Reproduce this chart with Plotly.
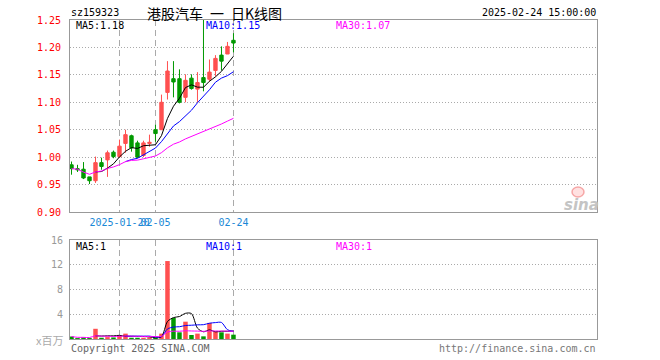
import plotly.graph_objects as go
import pandas as pd

# ---------------- data ----------------
dates = ["2025-01-08", "2025-01-09", "2025-01-10", "2025-01-13", "2025-01-14", "2025-01-15",
         "2025-01-16", "2025-01-17", "2025-01-20", "2025-01-21", "2025-01-22", "2025-01-23",
         "2025-01-24", "2025-01-27", "2025-02-05", "2025-02-06", "2025-02-07", "2025-02-10",
         "2025-02-11", "2025-02-12", "2025-02-13", "2025-02-14", "2025-02-17", "2025-02-18",
         "2025-02-19", "2025-02-20", "2025-02-21", "2025-02-24"]
opens = [0.986, 0.979, 0.978, 0.964, 0.957, 0.990, 0.995, 1.009, 1.001, 1.025, 1.039, 1.026,
         1.003, 1.025, 1.050, 1.050, 1.118, 1.143, 1.143, 1.109, 1.144, 1.124, 1.145, 1.142,
         1.158, 1.186, 1.188, 1.213]
highs = [0.992, 0.986, 0.991, 0.964, 1.001, 0.999, 1.012, 1.012, 1.032, 1.050, 1.041, 1.030,
         1.030, 1.041, 1.059, 1.114, 1.175, 1.175, 1.160, 1.151, 1.151, 1.155, 1.250, 1.178,
         1.186, 1.202, 1.210, 1.226]
lows = [0.968, 0.973, 0.960, 0.951, 0.953, 0.977, 0.964, 0.998, 0.999, 1.008, 1.010, 0.998,
        1.000, 1.019, 1.028, 1.050, 1.105, 1.109, 1.098, 1.100, 1.123, 1.100, 1.120, 1.138,
        1.147, 1.158, 1.188, 1.191]
closes = [0.979, 0.977, 0.962, 0.957, 0.990, 0.983, 1.008, 1.001, 1.020, 1.041, 1.017, 1.000,
          1.026, 1.027, 1.043, 1.100, 1.157, 1.137, 1.100, 1.140, 1.125, 1.136, 1.136, 1.155,
          1.180, 1.175, 1.202, 1.208]
volumes = [0.40, 0.15, 0.25, 0.15, 1.65, 0.20, 0.30, 0.25, 0.55, 0.87, 0.20, 0.20, 0.20, 0.25,
           0.20, 0.87, 12.6, 3.40, 1.08, 2.80, 0.65, 0.87, 0.43, 2.60, 1.24, 1.08, 0.87, 0.70]

price_ticks = [0.90, 0.95, 1.00, 1.05, 1.10, 1.15, 1.20, 1.25]
vol_ticks = [4, 8, 12, 16]
date_ticks = ["2025-01-20", "2025-02-05", "2025-02-24"]
date_tick_text = ["2025-01-20", "02-05", "02-24"]

title_text = "港股汽车 一 日K线图"
code_text = "sz159323"
time_text = "2025-02-24 15:00:00"
ma_price_labels = ["MA5:1.18", "MA10:1.15", "MA30:1.07"]
ma_vol_labels = ["MA5:1", "MA10:1", "MA30:1"]

# ---------------- derived ----------------
cl = pd.Series(closes)
ma5 = cl.rolling(5).mean()
ma10 = cl.rolling(10).mean()
ma30 = cl.rolling(30, min_periods=1).mean()
vs = pd.Series(volumes)
vma5 = vs.rolling(5).mean()
vma10 = vs.rolling(10).mean()
vma30 = vs.rolling(30, min_periods=1).mean()

RED = "#ff5050"
GREEN = "#009900"
vol_colors = [RED if c >= o else GREEN for o, c in zip(opens, closes)]

W, H = 660, 360
def px(x):
    return x / W
def py(y):
    return 1 - y / H

MONO = "DejaVu Sans Mono"
fig = go.Figure()

fig.add_trace(go.Candlestick(
    x=dates, open=opens, high=highs, low=lows, close=closes,
    increasing=dict(line=dict(color=RED, width=1), fillcolor=RED),
    decreasing=dict(line=dict(color=GREEN, width=1), fillcolor=GREEN),
    whiskerwidth=0, xaxis="x", yaxis="y", showlegend=False))

for s, col in [(ma5, "black"), (ma10, "#0000ff"), (ma30, "#ff00ff")]:
    fig.add_trace(go.Scatter(x=dates, y=s, mode="lines", line=dict(color=col, width=1),
                             xaxis="x", yaxis="y", showlegend=False, connectgaps=False))

fig.add_trace(go.Bar(x=dates, y=volumes, marker=dict(color=vol_colors, line=dict(width=0)),
                     width=0.75, xaxis="x2", yaxis="y2", showlegend=False))
for s, col in [(vma5, "black"), (vma10, "#0000ff"), (vma30, "#ff00ff")]:
    fig.add_trace(go.Scatter(x=dates, y=s, mode="lines",
                             line=dict(color=col, width=1, shape="spline", smoothing=0.8),
                             xaxis="x2", yaxis="y2", showlegend=False))

xr = [-0.25, 87.6]
xdom = [px(70), px(597)]
common_x = dict(type="category", range=xr, domain=xdom, showline=True, mirror=True,
                linecolor="#999999", linewidth=1, showgrid=True, gridcolor="#aaaaaa",
                griddash="6px,4px", gridwidth=1, tickmode="array", tickvals=date_ticks,
                ticktext=date_tick_text, ticks="", zeroline=False, fixedrange=True,
                automargin=False, tickangle=0)

fig.update_layout(
    width=W, height=H, margin=dict(l=0, r=0, t=0, b=0, autoexpand=False),
    paper_bgcolor="white", plot_bgcolor="white",
    boxgap=0.2, bargap=0.2, hovermode=False,
    xaxis=dict(**common_x, anchor="y", rangeslider=dict(visible=False),
               tickfont=dict(family=MONO, size=10, color="#1a88d6"), ticklabelstandoff=1),
    yaxis=dict(domain=[py(212), py(20)], range=[0.90, 1.25], tickmode="array",
               tickvals=price_ticks, tickformat=".2f", showline=True, mirror=True,
               linecolor="#999999", linewidth=1, showgrid=True, gridcolor="#aaaaaa",
               griddash="1px,2px", zeroline=False, ticks="", ticklabelstandoff=6,
               tickfont=dict(family=MONO, size=10, color="#ff0000"), anchor="x",
               automargin=False, fixedrange=True),
    xaxis2=dict(**common_x, anchor="y2", showticklabels=False),
    yaxis2=dict(domain=[py(339), py(240)], range=[0, 16], tickmode="array",
                tickvals=vol_ticks, showline=True, mirror=True, linecolor="#999999",
                linewidth=1, showgrid=True, gridcolor="#aaaaaa", griddash="1px,2px",
                zeroline=False, ticks="", ticklabelstandoff=4,
                tickfont=dict(family=MONO, size=10, color="#999999"), anchor="x2",
                automargin=False, fixedrange=True),
)

ann = []
def text(x, y, t, color="black", size=10, family=MONO, xanchor="left", **kw):
    ann.append(dict(x=px(x), y=py(y), xref="paper", yref="paper", text=t, showarrow=False,
                    xanchor=xanchor, yanchor="middle",
                    font=dict(family=family, size=size, color=color), **kw))

text(69, 13, code_text)
text(214, 13, title_text.replace(" ", "\u2002"), size=14, family="Noto Sans CJK SC",
     xanchor="center")
text(598, 13, time_text, xanchor="right")
text(74, 26, ma_price_labels[0], color="black")
text(204, 26, ma_price_labels[1], color="#0000ff")
text(334, 26, ma_price_labels[2], color="#ff00ff")
text(74, 246, ma_vol_labels[0], color="black")
text(204, 246, ma_vol_labels[1], color="#0000ff")
text(334, 246, ma_vol_labels[2], color="#ff00ff")
text(65, 340, "x百万", color="#aaaaaa", size=11, family="Noto Sans CJK SC", xanchor="right")
text(69, 348, "Copyright 2025 SINA.COM", color="#666666")
text(598, 348, "http://finance.sina.com.cn", color="#777777", xanchor="right")
text(581, 205, "<b><i>sina</i></b>", color="#c4c4c4", size=15, family="DejaVu Sans",
     xanchor="center")
fig.update_layout(annotations=ann)

fig.add_shape(type="circle", xref="paper", yref="paper",
              x0=px(572), x1=px(584), y0=py(197), y1=py(187),
              line=dict(color="rgba(240,120,120,0.6)", width=1.5),
              fillcolor="rgba(255,170,170,0.35)", layer="above")

fig.write_html("out.html", config={"displayModeBar": False, "staticPlot": True},
               post_script="document.body.style.margin='0';document.body.style.overflow='hidden';")
